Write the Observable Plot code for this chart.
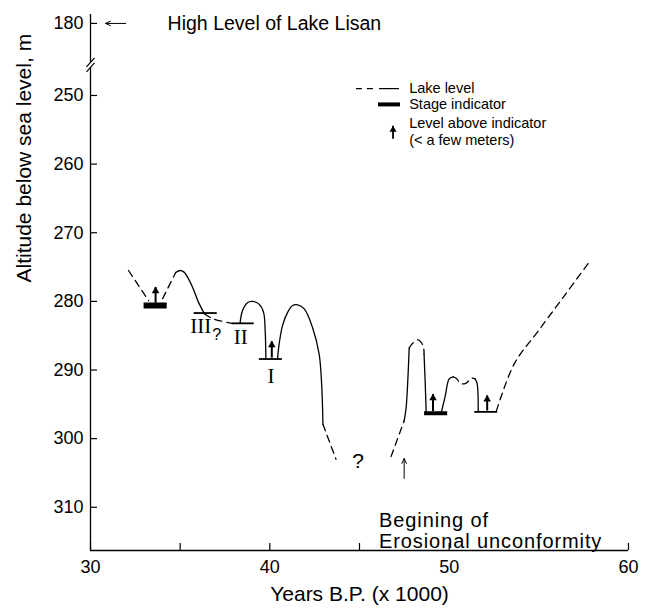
<!DOCTYPE html>
<html><head><meta charset="utf-8">
<script src="https://cdn.jsdelivr.net/npm/d3@7"></script>
<script src="https://cdn.jsdelivr.net/npm/@observablehq/plot@0.6"></script>
<style>body{margin:0;background:#fff} svg{display:block}</style>
</head><body><div id="chart"></div>
<script>
// ---------- data ----------
const xTickValues = [30, 35, 40, 45, 50, 55, 60];
const xTickLabels = [30, 40, 50, 60];
const yTickValues = [180, 250, 260, 270, 280, 290, 300, 310];
const yTickLabels = ["180", "250", "260", "270", "280", "290", "300", "310"];

// lake level, solid parts (years x1000, m below sea level)
const solidSegments = [
  [[34.75,275.8],[35.0,275.5],[35.2,275.7],[35.42,276.5],[35.75,278.3],[36.0,280.0],[36.35,281.8]],
  [[38.34,283.2],[38.47,281.4],[38.75,280.2],[39.03,280.0],[39.4,280.4],[39.65,281.6],[39.74,284.3],[39.78,288.4]],
  [[40.43,288.4],[40.52,286.2],[40.71,283.5],[40.99,281.6],[41.27,280.6],[41.55,280.5],[41.92,281.1],[42.38,283.8],[42.75,287.7],[42.89,292.1],[42.94,295.5],[42.96,297.9]],
  [[47.49,297.4],[47.6,295.5],[47.71,290.6],[47.77,286.8]],
  [[48.6,287.7],[48.66,291.6],[48.72,296.3]],
  [[49.55,296.3],[49.78,293.8],[50.0,291.3],[50.22,291.0]],
  [[51.45,291.3],[51.56,292.0],[51.62,296.1]]
];
// lake level, dashed (inferred) parts
const dashedSegments = [
  [[32.12,275.5],[33.24,279.9]],
  [[34.02,279.6],[34.75,275.8]],
  [[36.35,281.8],[36.8,282.5],[37.88,283.2]],
  [[42.96,297.9],[43.69,303.0]],
  [[46.76,302.6],[47.49,297.4]],
  [[47.77,286.8],[47.93,286.2],[48.27,285.6],[48.55,286.5],[48.6,287.7]],
  [[50.22,291.0],[50.39,291.2],[50.67,292.0],[50.95,291.9],[51.23,291.2],[51.45,291.3]],
  [[52.63,296.0],[53.63,289.1],[54.97,284.3],[56.42,279.2],[57.77,274.4]]
];
const thickStages = [
  {x1: 32.96, x2: 34.25, y: 280.6, w: 6},
  {x1: 48.6, x2: 49.89, y: 296.3, w: 4}
];
const thinStages = [
  {x1: 35.75, x2: 37.04, y: 281.7},
  {x1: 37.88, x2: 39.1, y: 283.2},
  {x1: 39.39, x2: 40.67, y: 288.4},
  {x1: 51.4, x2: 52.68, y: 296.1}
];
const stageArrows = [
  {x: 33.63, y1: 280.2, y2: 277.9},
  {x: 40.11, y1: 288.2, y2: 285.8},
  {x: 49.1, y1: 296.0, y2: 293.5},
  {x: 52.12, y1: 295.9, y2: 293.7}
];
const romanLabels = [
  {label: "III", x: 36.15, y: 283.6},
  {label: "II", x: 38.38, y: 285.3},
  {label: "I", x: 40.06, y: 290.9}
];
const legendItems = [
  {label: "Lake level", y: 249.0},
  {label: "Stage indicator", y: 251.3},
  {label: "Level above indicator", y: 254.1},
  {label: "(< a few meters)", y: 256.6}
];
const noteLines = [
  {label: "Begining of", y: 312.0},
  {label: "Erosional unconformity", y: 315.05}
];

// ---------- layout ----------
const W = 653, H = 614;
const mL = 90, mR = 25, mT = 14, mB = 64;
const Y_TOP = 238.2, Y_BOTTOM = 316.3;
const Y180_POS = 239.5;               // where the broken axis shows 180
const BREAK_A = 245.18, BREAK_B = 245.91;
const yPos = v => (v === 180 ? Y180_POS : v);
const SANS = "Liberation Sans, Arial, Helvetica, sans-serif";
const SERIF = "Liberation Serif, Times New Roman, serif";

const toRows = segs => segs.flatMap((s, i) => s.map(([x, y]) => ({seg: i, x, y})));
const solidRows = toRows(solidSegments);
const dashedRows = toRows(dashedSegments);

const plotW = W - mL - mR, plotH = H - mT - mB;
const bx = 0.2235, by = 0.657;
const breakMarks = [BREAK_A, BREAK_B].map(c => ({x1: 30 - bx, y1: c + by, x2: 30 + bx, y2: c - by}));

const chart = Plot.plot({
  width: W, height: H,
  marginLeft: mL, marginRight: mR, marginTop: mT, marginBottom: mB,
  x: {domain: [30, 60], axis: null},
  y: {domain: [Y_TOP, Y_BOTTOM], reverse: true, axis: null},
  style: {fontFamily: SANS, background: "white"},
  marks: [
    // axes
    Plot.ruleX([30], {y1: Y_TOP, y2: BREAK_A, stroke: "black", strokeWidth: 1.3}),
    Plot.ruleX([30], {y1: BREAK_B, y2: Y_BOTTOM, stroke: "black", strokeWidth: 1.3}),
    Plot.ruleY([Y_BOTTOM], {x1: 30, x2: 60, stroke: "black", strokeWidth: 1.3}),
    Plot.link(breakMarks, {x1: "x1", y1: "y1", x2: "x2", y2: "y2", stroke: "black", strokeWidth: 1.2}),
    Plot.tickY(yTickValues, {y: d => yPos(d), insetRight: plotW - 7, stroke: "black", strokeWidth: 1.2}),
    Plot.tickX(xTickValues, {x: d => d, insetTop: plotH - 7, stroke: "black", strokeWidth: 1.2}),
    Plot.text(yTickValues, {x: 30, y: d => yPos(d), text: (d, i) => yTickLabels[i], textAnchor: "end", dx: -7, fontSize: 18}),
    Plot.text(xTickLabels, {x: d => d, y: Y_BOTTOM, text: d => String(d), dy: 17, fontSize: 18}),
    Plot.text(["Years B.P. (x 1000)"], {frameAnchor: "bottom", dy: 50, fontSize: 21}),
    Plot.text(["Altitude below sea level, m"], {frameAnchor: "left", rotate: -90, dx: -66, fontSize: 21}),

    // high level of Lake Lisan
    Plot.arrow([{x1: 31.96, x2: 30.84, y: Y180_POS}], {x1: "x1", x2: "x2", y1: "y", y2: "y", stroke: "black", strokeWidth: 1, headLength: 8, headAngle: 50}),
    Plot.text(["High Level of Lake Lisan"], {x: 34.3, y: Y180_POS, textAnchor: "start", fontSize: 19.5}),

    // lake level
    Plot.line(solidRows, {x: "x", y: "y", z: "seg", curve: "catmull-rom", stroke: "black", strokeWidth: 1.3}),
    Plot.line(dashedRows, {x: "x", y: "y", z: "seg", curve: "catmull-rom", stroke: "black", strokeWidth: 1.3, strokeDasharray: "7,5"}),

    // stage indicators
    Plot.link(thickStages, {x1: "x1", x2: "x2", y1: "y", y2: "y", stroke: "black", strokeWidth: d => d.w}),
    Plot.link(thinStages, {x1: "x1", x2: "x2", y1: "y", y2: "y", stroke: "black", strokeWidth: 1.8}),
    Plot.link(stageArrows, {x1: "x", x2: "x", y1: "y1", y2: "y2", stroke: "black", strokeWidth: 2}),
    Plot.dot(stageArrows, {x: "x", y: "y2", symbol: "triangle", r: 2.8, fill: "black", stroke: "none", dy: 4}),
    Plot.text(romanLabels, {x: "x", y: "y", text: "label", fontFamily: SERIF, fontSize: 21}),
    Plot.text(["?"], {x: 37.04, y: 284.9, fontSize: 16}),
    Plot.text(["?"], {x: 44.92, y: 303.3, fontSize: 21}),

    // erosional unconformity
    Plot.arrow([{x: 47.49, y1: 305.8, y2: 302.9}], {x1: "x", x2: "x", y1: "y1", y2: "y2", stroke: "black", strokeWidth: 1, headLength: 8, headAngle: 50}),
    Plot.text(noteLines, {x: 46.09, y: "y", text: "label", textAnchor: "start", fontSize: 20}),

    // legend
    Plot.link([{x1: 44.8, x2: 45.92, y: 249.0}], {x1: "x1", x2: "x2", y1: "y", y2: "y", stroke: "black", strokeWidth: 1.2, strokeDasharray: "6,5"}),
    Plot.link([{x1: 46.09, x2: 47.2, y: 249.0}], {x1: "x1", x2: "x2", y1: "y", y2: "y", stroke: "black", strokeWidth: 1.2}),
    Plot.link([{x1: 46.03, x2: 47.26, y: 251.3}], {x1: "x1", x2: "x2", y1: "y", y2: "y", stroke: "black", strokeWidth: 4}),
    Plot.link([{x: 46.87, y1: 256.3, y2: 254.4}], {x1: "x", x2: "x", y1: "y1", y2: "y2", stroke: "black", strokeWidth: 1.8}),
    Plot.dot([{x: 46.87, y: 254.4}], {x: "x", y: "y", symbol: "triangle", r: 2.6, fill: "black", stroke: "none", dy: 4}),
    Plot.text(legendItems, {x: 47.77, y: "y", text: "label", textAnchor: "start", fontSize: 14.5})
  ]
});
// widen the two note lines slightly, as in the reference lettering
d3.select(chart).selectAll("text").filter(function () {
  return noteLines.some(n => n.label === this.textContent);
}).attr("letter-spacing", "0.9px");
document.getElementById("chart").appendChild(chart);
</script></body></html>
